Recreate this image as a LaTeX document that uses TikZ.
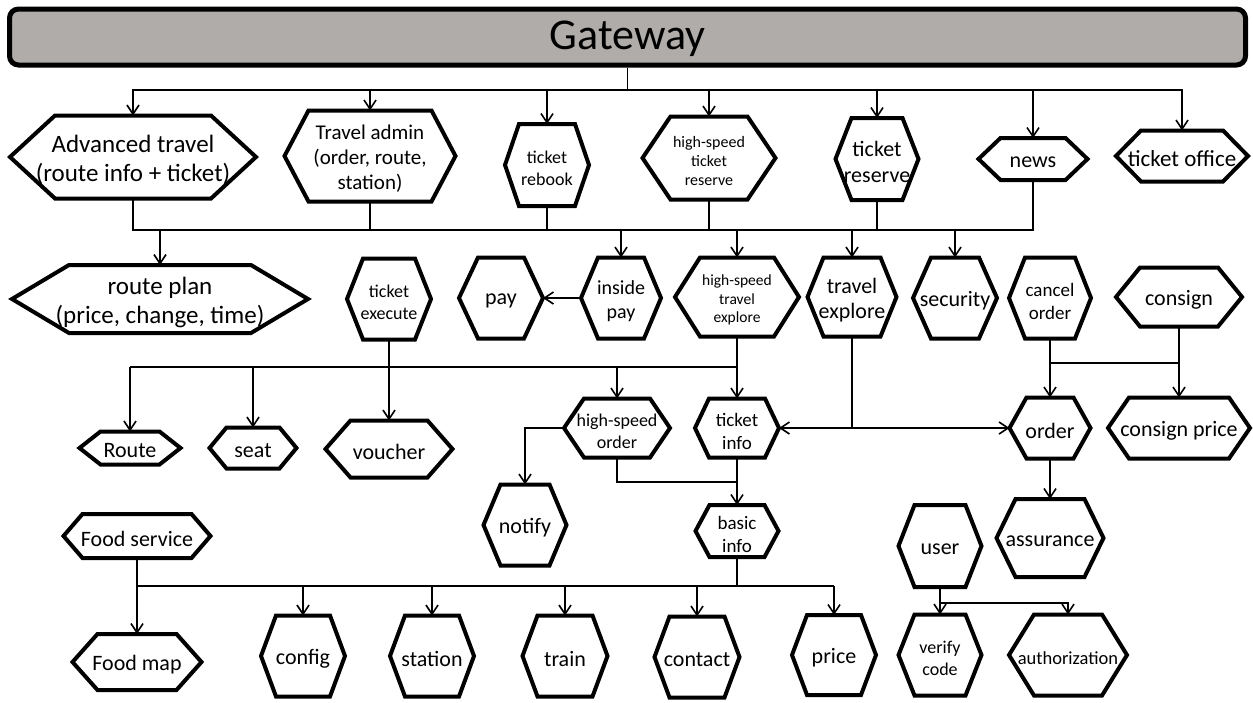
\documentclass[tikz,border=0pt]{standalone}
\usepackage{fontspec}
\setmainfont{Carlito}
\usetikzlibrary{arrows.meta}
\definecolor{gwgray}{RGB}{176,172,170}
\tikzset{
  hexbox/.style={inner sep=0pt, outer sep=0pt},
  hextext/.style={inner sep=0pt, align=center, text=black},
  hexline/.style={line width=4pt, line join=miter},
  link/.style={line width=1.6pt},
  arr/.style={link, -{Straight Barb[length=9pt,width=12pt]}},
  gwbox/.style={draw, line width=5pt, rounded corners=9pt, fill=gwgray, inner sep=0pt,
    font=\fontsize{44}{50}\selectfont, text height=30pt, text depth=6pt}
}
% hexagon: name, x, y, width, height, slant inset, font size, baseline skip, text
\newcommand\Hex[9]{%
  \node[hexbox, minimum width=#4pt, minimum height=#5pt] (#1) at (#2,#3) {};
  \node[hextext, font=\fontsize{#7}{#8}\selectfont] (#1-t) at ([yshift=-3pt]#1.center) {#9};
  \draw[hexline] (#1.west) -- ([xshift=#6pt]#1.north west) -- ([xshift=-#6pt]#1.north east)
    -- (#1.east) -- ([xshift=-#6pt]#1.south east) -- ([xshift=#6pt]#1.south west) -- cycle;
}
\begin{document}
\begin{tikzpicture}[x=1pt, y=-1pt]
\useasboundingbox (0,0) rectangle (1253,702);

\node[gwbox, minimum width=1236pt, minimum height=56pt] (gw) at (627.5,37) {Gateway};

% first row of services
\Hex{adv}{133}{157}{246}{83}{45}{25}{29}{Advanced travel\\(route info + ticket)}
\Hex{tadmin}{370}{156}{171}{91}{24}{21}{25}{Travel admin\\(order, route,\\station)}
\Hex{trebook}{547}{165}{84}{82}{14}{18}{22}{ticket\\rebook}
\Hex{hstres}{709}{158}{133}{83}{28}{16}{19}{high-speed\\ticket\\reserve}
\Hex{tres}{877}{159}{83}{82}{16}{22}{26}{ticket\\reserve}
\Hex{news}{1033}{159}{109}{42}{22}{22}{26}{news}
\Hex{toff}{1182}{156}{132}{51}{25}{23}{27}{ticket office}

% second row
\Hex{rplan}{160}{299}{296}{68}{57}{25}{29}{route plan\\(price, change, time)}
\Hex{texec}{389}{299}{84}{81}{16}{18}{22}{ticket\\execute}
\Hex{pay}{501}{298}{84}{81}{19}{22}{26}{pay}
\Hex{ipay}{621}{298}{80}{81}{17}{20}{24}{inside\\pay}
\Hex{hstexp}{737}{297}{124}{79}{25}{15.5}{18.5}{high-speed\\travel\\explore}
\Hex{texp}{852}{297}{89}{79}{16}{22}{25}{travel\\explore}
\Hex{sec}{955}{298}{84}{81}{18}{22}{26}{security}
\Hex{corder}{1050}{298}{82}{81}{16}{19}{23}{cancel\\order}
\Hex{consign}{1179}{297}{126}{59}{24}{22}{26}{consign}

% third row
\Hex{route}{130}{448}{101}{33}{21}{22}{26}{Route}
\Hex{seat}{253}{448}{87}{41}{17}{22}{26}{seat}
\Hex{voucher}{389}{449}{127}{57}{25}{22}{26}{voucher}
\Hex{hsord}{617}{428}{106}{59}{20}{18}{22}{high-speed\\order}
\Hex{tinfo}{737}{428}{84}{59}{14}{19}{23}{ticket\\info}
\Hex{order}{1050}{428}{81}{61}{17}{22}{26}{order}
\Hex{cprice}{1179}{428}{142}{61}{21}{22}{26}{consign price}

% fourth row
\Hex{notify}{525}{525}{83}{81}{17}{22}{26}{notify}
\Hex{binfo}{737}{531}{83}{52}{14}{19}{23}{basic\\info}
\Hex{fserv}{137}{536}{147}{44}{19}{22}{26}{Food service}
\Hex{user}{940}{546}{83}{82}{16}{22}{26}{user}
\Hex{assur}{1050}{538}{107}{78}{19}{22}{26}{assurance}

% bottom row
\Hex{fmap}{137}{662}{129}{56}{25}{22}{26}{Food map}
\Hex{config}{303}{656}{84}{81}{15}{22}{26}{config}
\Hex{station}{432}{656}{84}{81}{15}{22}{26}{station}
\Hex{train}{565}{656}{85}{81}{15}{22}{26}{train}
\Hex{contact}{697}{657}{85}{81}{15}{22}{26}{contact}
\Hex{price}{834}{655}{84}{80}{15}{22}{26}{price}
\Hex{vcode}{940}{655}{83}{81}{16}{18}{22}{verify\\code}
\Hex{auth}{1068}{655}{118}{81}{25}{18.5}{22}{authorization}

% bus levels
\coordinate (bus1) at (0,90);
\coordinate (bus2) at (0,230);
\coordinate (bus3) at (0,367);
\coordinate (bus6) at (0,363);
\coordinate (bus7) at (0,482);
\coordinate (bus4) at (0,586);
\coordinate (bus5) at (0,603);

% gateway fan-out
\foreach \n in {adv,tadmin,trebook,hstres,tres,news,toff}
  \draw[arr] (gw.south) -- (gw.south |- bus1) -| (\n.north);

% first row into the shared bus
\draw[link] (adv.south) |- (news.south |- bus2) -- (news.south);
\foreach \n in {tadmin,trebook,hstres,tres}
  \draw[link] (\n.south) -- (\n.south |- bus2);
\foreach \n in {rplan,ipay,hstexp,texp,sec}
  \draw[arr] (\n.north |- bus2) -- (\n.north);

% high-speed travel explore fan-out
\draw[link] (hstexp.south) |- (route.north |- bus3);
\foreach \n in {route,seat,hsord}
  \draw[arr] (\n.north |- bus3) -- (\n.north);
\draw[arr] (hstexp.south) -- (tinfo.north);
\draw[arr] (texec.south) -- (voucher.north);

\draw[arr] (ipay.west) -- (pay.east);

% order chain
\draw[arr] (hsord.west) -| (notify.north);
\draw[link] (hsord.south) |- (binfo.north |- bus7);
\draw[arr] (tinfo.south) -- (binfo.north);
\draw[arr] (texp.south) |- (tinfo.east);
\draw[arr] (texp.south) |- (order.west);
\draw[arr] (corder.south) -- (order.north);
\draw[arr] (consign.south) -- (cprice.north);
\draw[link] (corder.south |- bus6) -- (consign.south |- bus6);
\draw[arr] (order.south) -- (assur.north);

% basic info and food services
\draw[link] (binfo.south) -- (binfo.south |- bus4);
\draw[link] (fserv.south |- bus4) -- (price.north |- bus4);
\draw[arr] (fserv.south) -- (fmap.north);
\foreach \n in {config,station,train,contact,price}
  \draw[arr] (\n.north |- bus4) -- (\n.north);

% user
\draw[arr] (user.south) -- (vcode.north);
\draw[arr] (user.south |- bus5) -| (auth.north);
\end{tikzpicture}
\end{document}
